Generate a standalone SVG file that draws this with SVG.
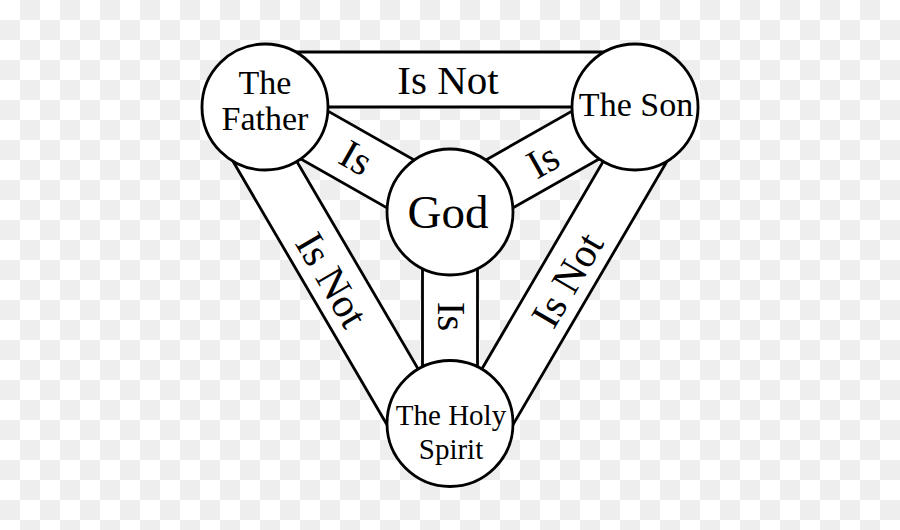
<svg xmlns="http://www.w3.org/2000/svg" width="900" height="530" viewBox="0 0 900 530">
  <defs>
    <pattern id="checker" x="0" y="0" width="40" height="40" patternUnits="userSpaceOnUse">
      <rect width="40" height="40" fill="#ffffff"/>
      <rect x="20" y="0" width="20" height="20" fill="#eeeeee"/>
      <rect x="0" y="20" width="20" height="20" fill="#eeeeee"/>
    </pattern>
  </defs>
  <style>
    .band { fill: #ffffff; stroke: #000000; stroke-width: 2.8; stroke-linejoin: miter; }
    .node { fill: #ffffff; stroke: #000000; stroke-width: 2.8; }
    text { font-family: "Liberation Serif", "Times New Roman", serif; fill: #000000; text-anchor: middle; }
    .lbl { font-size: 41px; }
    .nm { font-size: 34px; }
  </style>
  <rect width="900" height="530" fill="url(#checker)"/>

  <g id="connectors">
    <!-- Is Not: Father - Son -->
    <polygon class="band" points="265,52 635,52 635,107 265,107"/>
    <!-- Is Not: Father - Holy Spirit -->
    <polygon class="band" points="265,107 450,423.5 402.5,451.25 217.5,134.75"/>
    <!-- Is Not: Son - Holy Spirit -->
    <polygon class="band" points="635,107 450,423.5 497.5,451.25 682.5,134.75"/>
    <!-- Is: Father - God -->
    <polygon class="band" points="278.6,83.1 463.6,188.1 436.4,235.9 251.4,130.9"/>
    <!-- Is: Son - God -->
    <polygon class="band" points="621.4,83.1 436.4,188.1 463.6,235.9 648.6,130.9"/>
    <!-- Is: God - Holy Spirit -->
    <polygon class="band" points="422.5,212 477.5,212 477.5,423.5 422.5,423.5"/>

    <text class="lbl" x="448" y="94">Is Not</text>
    <text class="lbl" transform="translate(331.5,280) rotate(59.7)" x="0" y="13.5">Is Not</text>
    <text class="lbl" transform="translate(567.5,280) rotate(-59.7)" x="0" y="13.5">Is Not</text>
    <text class="lbl" font-size="40" transform="translate(356,158) rotate(29.6)" x="0" y="13.2">Is</text>
    <text class="lbl" font-size="40" transform="translate(543,161) rotate(-29.6)" x="0" y="13.2">Is</text>
    <text class="lbl" font-size="40" transform="translate(451,316.5) rotate(90)" x="0" y="13.2">Is</text>
  </g>

  <g id="father">
    <circle class="node" cx="265" cy="107" r="63"/>
    <text class="nm" x="265" y="94">The</text>
    <text class="nm" x="265" y="130">Father</text>
  </g>
  <g id="son">
    <circle class="node" cx="635" cy="107" r="63"/>
    <text class="nm" x="636" y="116">The Son</text>
  </g>
  <g id="god">
    <circle class="node" cx="450" cy="212" r="63"/>
    <text x="448" y="228" font-size="47">God</text>
  </g>
  <g id="holy-spirit">
    <circle class="node" cx="450" cy="423.5" r="63"/>
    <text x="451" y="425" font-size="29">The Holy</text>
    <text x="451" y="459" font-size="29">Spirit</text>
  </g>
</svg>
